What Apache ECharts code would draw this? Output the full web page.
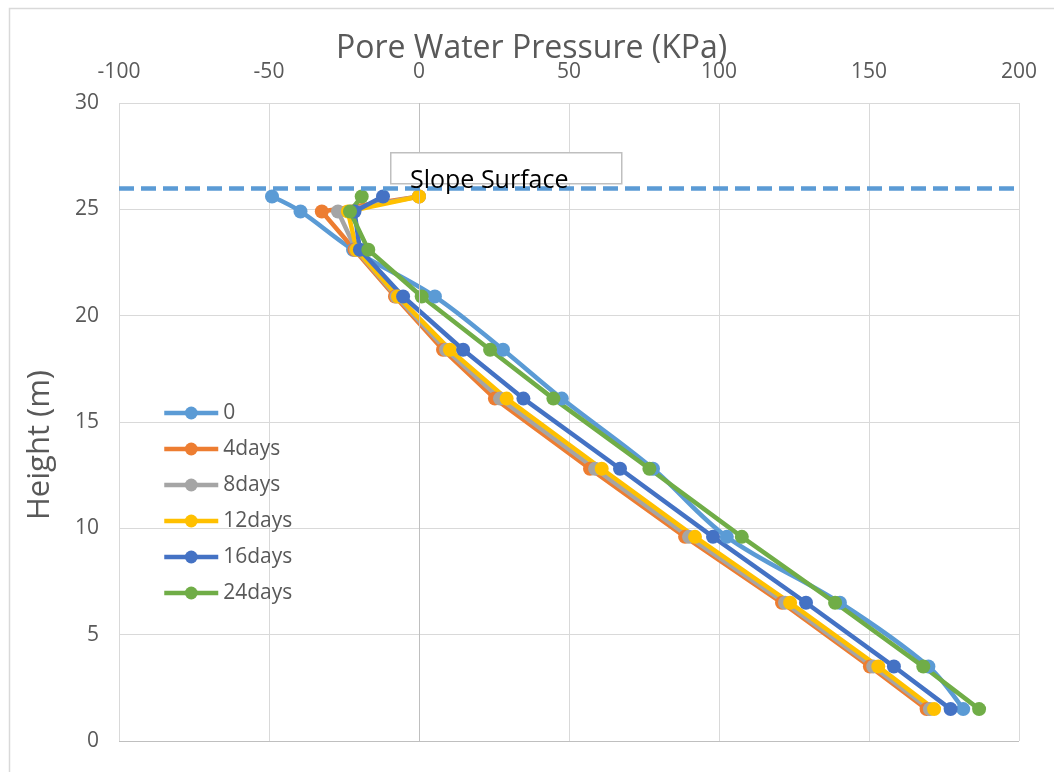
<!DOCTYPE html>
<html>
<head>
<meta charset="utf-8">
<script src="https://cdn.jsdelivr.net/npm/echarts@6/dist/echarts.min.js"></script>
<style>
html,body{margin:0;padding:0;background:#fff;}
#chart{width:1054px;height:772px;}
</style>
</head>
<body>
<div id="chart"></div>
<script>
// Heights (m) of the measurement points
const heights = [25.6, 24.9, 23.1, 20.9, 18.4, 16.1, 12.8, 9.6, 6.5, 3.5, 1.5];
// Pore water pressure (KPa) per series
const seriesNames = ['0', '4days', '8days', '12days', '16days', '24days'];
const s0    = [-49, -39.5, -22, 5.3, 28, 47.6, 78, 102.6, 140.3, 169.8, 181.4];
const s4    = [0, -32.4, -21.5, -8, 8, 25.3, 57, 88.7, 121, 150.3, 169.2];
const s8    = [0, -27, -21, -7.5, 9, 27, 58.7, 90, 122, 151.4, 170.3];
const s12   = [0, -23.7, -20.8, -7, 10.3, 29.2, 60.9, 92, 123.7, 153.1, 171.7];
const s16   = [-12, -21.5, -19.7, -5.3, 14.7, 34.8, 67, 98, 129, 158.3, 177.2];
const s24   = [-19.1, -23, -16.9, 0.9, 23.7, 44.8, 76.8, 107.6, 138.7, 168.1, 186.7];
const xTicks = { min: -100, max: 200, interval: 50 };
const yTicks = { min: 0, max: 30, interval: 5 };
const slopeSurface = 26;
const titleText = 'Pore Water Pressure (KPa)';
const yName = 'Height (m)';
const boxText = 'Slope Surface';

const colors = ['#5B9BD5', '#ED7D31', '#A5A5A5', '#FFC000', '#4472C4', '#70AD47'];
const allValues = [s0, s4, s8, s12, s16, s24];
const FONT = 'Open Sans';

const chart = echarts.init(document.getElementById('chart'));

const lineSeries = allValues.map((vals, i) => ({
  name: seriesNames[i],
  type: 'line',
  data: vals.map((v, k) => [v, heights[k]]),
  symbol: 'circle',
  symbolSize: 14,
  smooth: i === 0 ? 0.35 : false,
  z: 3,
  lineStyle: { color: colors[i], width: 4.5 },
  itemStyle: { color: colors[i], borderWidth: 0 },
  emphasis: { disabled: true }
}));

const refSeries = {
  name: '__ref',
  type: 'line',
  data: [],
  z: 2,
  silent: true,
  markLine: {
    silent: true,
    symbol: ['none', 'none'],
    label: { show: false },
    animation: false,
    data: [
      { xAxis: 0, lineStyle: { color: '#bfbfbf', width: 1, type: 'solid' } },
      { yAxis: 0, lineStyle: { color: '#bfbfbf', width: 1, type: 'solid' } },
      { yAxis: slopeSurface, lineStyle: { color: '#5B9BD5', width: 4.5, type: [15, 7] } }
    ]
  }
};

chart.setOption({
  animation: false,
  backgroundColor: '#fff',
  textStyle: { fontFamily: FONT },
  title: {
    text: titleText,
    left: 331,
    top: 28,
    textStyle: { fontFamily: FONT, fontSize: 32, fontWeight: 'normal', color: '#595959' }
  },
  legend: {
    data: seriesNames,
    orient: 'vertical',
    left: 157,
    top: 397.5,
    itemWidth: 54,
    itemHeight: 16,
    itemGap: 15,
    lineStyle: { width: 4.5 },
    textStyle: { fontFamily: FONT, fontSize: 21, color: '#595959' }
  },
  grid: { left: 119, right: 35, top: 103, bottom: 31, containLabel: false },
  xAxis: {
    type: 'value',
    position: 'top',
    min: xTicks.min, max: xTicks.max, interval: xTicks.interval,
    axisLine: { show: false },
    axisTick: { show: false },
    axisLabel: { color: '#595959', fontSize: 21, fontFamily: FONT, margin: 20 },
    splitLine: { show: true, lineStyle: { color: '#d9d9d9', width: 1 } }
  },
  yAxis: {
    type: 'value',
    min: yTicks.min, max: yTicks.max, interval: yTicks.interval,
    axisLine: { show: false },
    axisTick: { show: false },
    axisLabel: { color: '#595959', fontSize: 21, fontFamily: FONT, margin: 20 },
    splitLine: { show: true, lineStyle: { color: '#d9d9d9', width: 1 } }
  },
  graphic: [
    {
      type: 'rect', left: 7, top: 6, z: 0, silent: true,
      shape: { x: 0, y: 0, width: 1100, height: 820 },
      style: { fill: 'none', stroke: '#d9d9d9', lineWidth: 1.5 }
    },
    {
      type: 'text', x: 40, y: 445, rotation: Math.PI / 2, z: 5, silent: true,
      style: { text: yName, fill: '#595959', font: '31px "Open Sans"', align: 'center', verticalAlign: 'middle' }
    },
    {
      type: 'rect', left: 390, top: 152, z: 10, silent: true,
      shape: { x: 0, y: 0, width: 231, height: 31 },
      style: { fill: '#ffffff', stroke: '#bfbfbf', lineWidth: 1.5 }
    },
    {
      type: 'text', left: 410, top: 168, z: 11, silent: true,
      style: { text: boxText, fill: '#000000', font: '25px "Open Sans"' }
    }
  ],
  series: [refSeries].concat(lineSeries)
});
</script>
</body>
</html>
